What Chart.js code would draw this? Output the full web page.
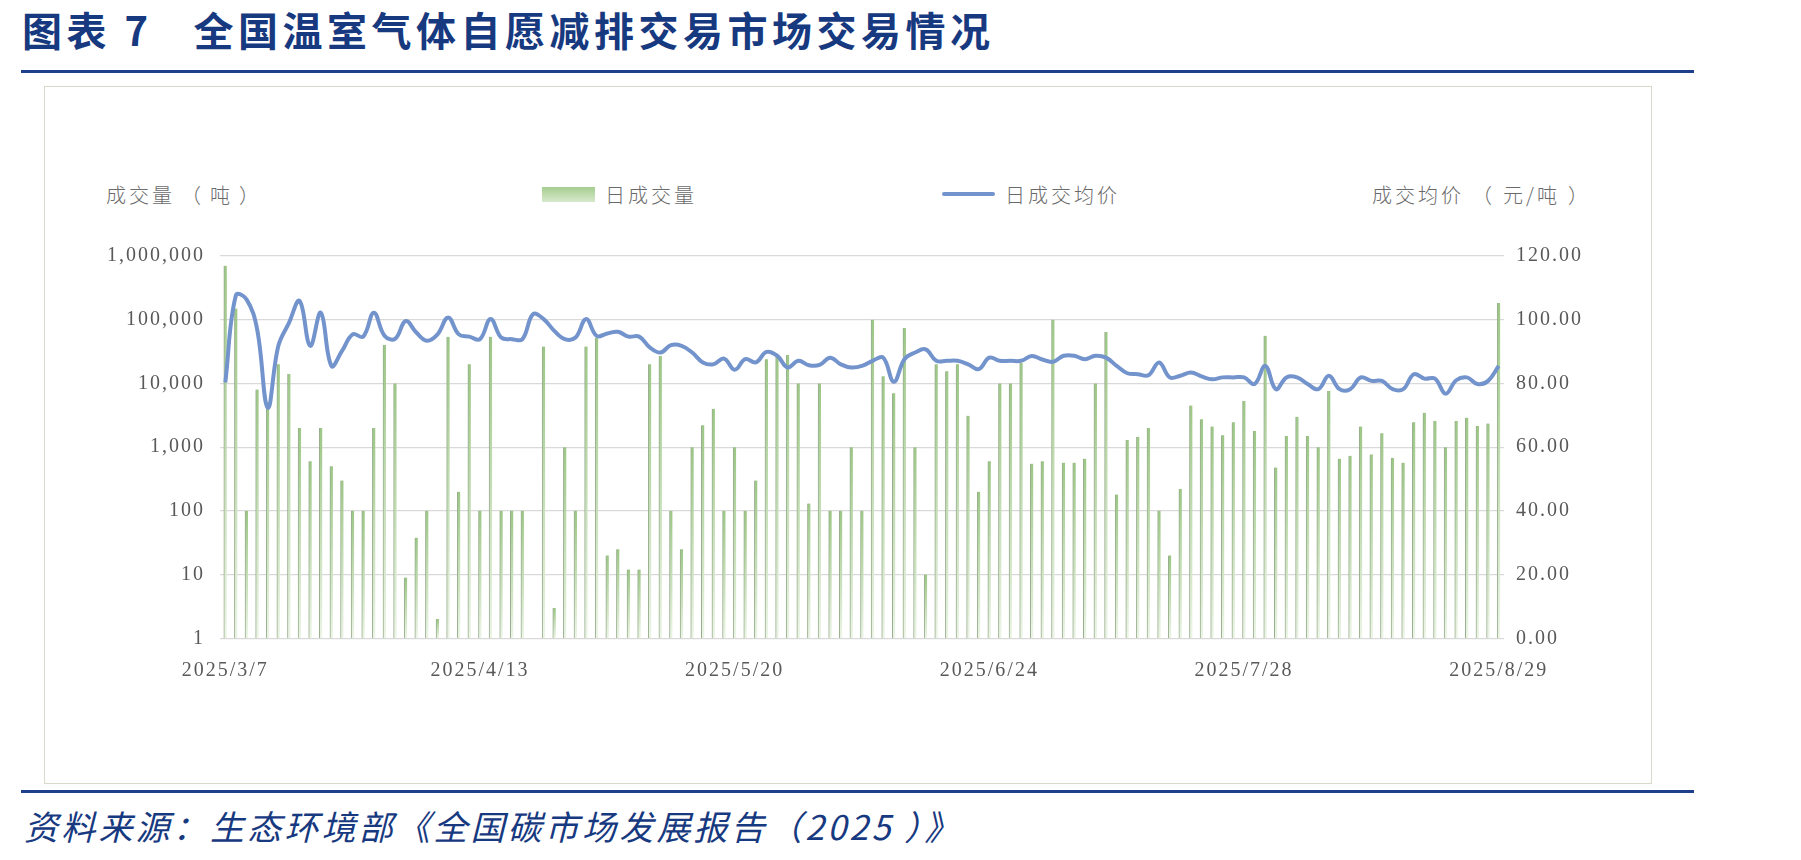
<!DOCTYPE html>
<html>
<head>
<meta charset="utf-8">
<script src="https://cdn.jsdelivr.net/npm/chart.js@4.4.1/dist/chart.umd.min.js"></script>
<style>
  html, body { margin: 0; padding: 0; background: #fff; }
  body { width: 1801px; height: 860px; position: relative; overflow: hidden; font-family: "Noto Sans CJK SC", "Noto Sans", sans-serif; }
  .title { position: absolute; left: 22px; top: 5px; font-size: 40px; font-weight: 700; color: #17397f; letter-spacing: 4.5px; white-space: pre; line-height: 48px; }
  .rule { position: absolute; left: 21px; width: 1673px; height: 3px; background: #1d3f8c; }
  .box { position: absolute; left: 44px; top: 86px; width: 1606px; height: 696px; border: 1.5px solid #d5dbcb; }
  .lbl { position: absolute; font-size: 20px; color: #6b6b6b; letter-spacing: 3px; white-space: nowrap; line-height: 24px; font-weight: 300; }
  .p { margin: 0 6px; }
  .q { margin: 0 8px; }
  .swatch { position: absolute; }
  .footer { position: absolute; left: 24px; top: 804px; font-size: 34px; font-style: italic; color: #17397f; letter-spacing: 3.2px; white-space: pre; line-height: 44px; }
  #wrap { position: absolute; left: 44px; top: 86px; width: 1608px; height: 695px; }
</style>
</head>
<body>
<div class="title">图表 7   全国温室气体自愿减排交易市场交易情况</div>
<div class="rule" style="top:70px"></div>
<div class="box"></div>
<div class="lbl" style="left:106px; top:183px;">成交量<span class="p">（</span>吨<span class="p">）</span></div>
<div class="swatch" style="left:542px; top:187px; width:53px; height:15px; background:linear-gradient(#a6cd90,#d6e9cb);"></div>
<div class="lbl" style="left:605px; top:183px;">日成交量</div>
<div class="swatch" style="left:942px; top:192px; width:53px; height:4px; background:#7393cc; border-radius:2px;"></div>
<div class="lbl" style="left:1005px; top:183px;">日成交均价</div>
<div class="lbl" style="left:1372px; top:183px;">成交均价<span class="q">（</span>元/吨<span class="q">）</span></div>
<div id="wrap"><canvas id="c" width="1608" height="695"></canvas></div>
<div class="rule" style="top:790px"></div>
<div class="footer">资料来源：生态环境部《全国碳市场发展报告（2025 ）》</div>
<script>
// ---- data ----
const tickLabels = ['2025/3/7', '2025/4/13', '2025/5/20', '2025/6/24', '2025/7/28', '2025/8/29'];
const tickEvery = 24;

const volumeSeriesName = '日成交量';
const priceSeriesName = '日成交均价';

// 日成交量（吨）, one entry per trading day
const dailyVolume = [
  700000, 150000, 100, 8000, 5000, 20000, 14000, 2000, 600, 2000,
  500, 300, 100, 100, 2000, 40000, 10000, 9, 38, 100,
  2, 54000, 200, 20000, 100, 54000, 100, 100, 100, null,
  38000, 3, 1000, 100, 38000, 52000, 20, 25, 12, 12,
  20000, 27000, 100, 25, 1000, 2200, 4000, 100, 1000, 100,
  300, 24000, 27000, 28000, 10000, 130, 10000, 100, 100, 1000,
  100, 100000, 13000, 7000, 74000, 1000, 10, 20000, 15500, 20000,
  3100, 200, 600, 10000, 10000, 21000, 550, 600, 100000, 570,
  570, 660, 10000, 64000, 180, 1300, 1450, 2000, 100, 20,
  220, 4500, 2750, 2100, 1540, 2470, 5300, 1800, 56000, 480,
  1500, 3000, 1500, 1000, 7600, 660, 730, 2100, 770, 1650,
  680, 570, 2470, 3460, 2570, 1000, 2570, 2900, 2150, 2350,
  183000
];

// 日成交均价（元/吨）
const dailyPrice = [
  80.3, 107.7, 106.4, 97.0, 72.4, 91.8, 99.0, 105.9, 91.8, 102.2,
  85.5, 90.2, 95.4, 94.7, 102.2, 95.0, 94.0, 99.6, 96.0, 93.4,
  95.4, 100.7, 95.4, 94.7, 93.9, 100.2, 94.4, 93.9, 93.9, 101.7,
  100.2, 96.5, 93.9, 94.4, 100.2, 94.9, 95.7, 96.2, 94.7, 94.7,
  91.3, 89.7, 92.0, 91.8, 89.7, 86.6, 86.0, 87.8, 84.3, 87.6,
  86.6, 89.9, 88.7, 85.0, 87.1, 85.7, 85.8, 88.1, 86.0, 85.0,
  85.5, 87.1, 88.1, 80.5, 87.6, 89.7, 90.7, 87.1, 87.1, 87.1,
  86.0, 84.5, 88.1, 87.1, 87.1, 87.1, 88.6, 87.5, 86.8, 88.7,
  88.7, 87.6, 88.7, 88.1, 85.5, 83.2, 82.9, 82.6, 86.6, 81.9,
  82.4, 83.4, 82.2, 81.3, 81.9, 81.9, 81.9, 79.8, 85.5, 78.2,
  81.9, 81.9, 79.8, 78.2, 82.4, 78.2, 78.2, 81.9, 80.8, 80.8,
  78.2, 78.2, 82.9, 81.5, 81.5, 76.8, 81.0, 81.9, 79.8, 80.8,
  85.5
];

const leftTicks = [1, 10, 100, 1000, 10000, 100000, 1000000];
const rightMin = 0, rightMax = 120, rightStep = 20;

// category labels: tick text every 24 trading days
const categories = dailyVolume.map((_, i) => (i % tickEvery === 0 ? tickLabels[i / tickEvery] : ''));

// ---- chart ----
const PLOT_LEFT = 176, PLOT_RIGHT_W = 148, PLOT_TOP = 170, X_AXIS_H = 142.7;
const tickFont = { family: '"Liberation Serif", "Times New Roman", serif', size: 20 };
const tickColor = '#595959';

const spacingPlugin = {
  id: 'spacing',
  beforeDraw(chart) { chart.ctx.letterSpacing = '2px'; }
};

new Chart(document.getElementById('c'), {
  data: {
    labels: categories,
    datasets: [
      {
        type: 'line',
        label: priceSeriesName,
        data: dailyPrice,
        yAxisID: 'y1',
        borderColor: '#7393cc',
        borderWidth: 4,
        pointRadius: 0,
        tension: 0.4,
        order: 0
      },
      {
        type: 'bar',
        label: volumeSeriesName,
        data: dailyVolume,
        yAxisID: 'y',
        barThickness: 3,
        order: 1,
        borderSkipped: false,
        borderWidth: { left: 1, right: 0, top: 0, bottom: 0 },
        borderColor: 'rgba(135,160,122,0.85)',
        backgroundColor(ctx) {
          const chart = ctx.chart;
          const area = chart.chartArea;
          const v = ctx.raw;
          if (!area || v == null) return '#a6cd90';
          const top = chart.scales.y.getPixelForValue(v);
          const g = chart.ctx.createLinearGradient(0, top, 0, area.bottom);
          g.addColorStop(0, '#9cc785');
          g.addColorStop(1, '#ecf4e6');
          return g;
        }
      }
    ]
  },
  options: {
    responsive: false,
    animation: false,
    events: [],
    layout: { padding: { top: PLOT_TOP, left: 0, right: 0, bottom: 0 } },
    plugins: { legend: { display: false }, tooltip: { enabled: false } },
    scales: {
      x: {
        type: 'category',
        offset: true,
        grid: { display: false, drawTicks: false },
        border: { display: false },
        ticks: {
          autoSkip: false,
          maxRotation: 0,
          minRotation: 0,
          padding: 20,
          font: tickFont,
          color: tickColor,
          callback(value, index) { return categories[index]; }
        },
        afterFit(scale) { scale.height = X_AXIS_H; }
      },
      y: {
        type: 'logarithmic',
        position: 'left',
        min: 1,
        max: 1000000,
        grid: { color: '#d9d9d9', lineWidth: 1.2, drawTicks: false },
        border: { display: false },
        ticks: {
          padding: 15,
          font: tickFont,
          color: tickColor,
          callback(v) { return Number(v).toLocaleString('en-US'); }
        },
        afterBuildTicks(scale) { scale.ticks = leftTicks.map(v => ({ value: v, major: true })); },
        afterFit(scale) { scale.width = PLOT_LEFT; }
      },
      y1: {
        type: 'linear',
        position: 'right',
        min: rightMin,
        max: rightMax,
        grid: { display: false, drawTicks: false },
        border: { display: false },
        ticks: {
          stepSize: rightStep,
          padding: 12,
          font: tickFont,
          color: tickColor,
          callback(v) { return Number(v).toFixed(2); }
        },
        afterFit(scale) { scale.width = PLOT_RIGHT_W; }
      }
    }
  },
  plugins: [spacingPlugin]
});
</script>
</body>
</html>
